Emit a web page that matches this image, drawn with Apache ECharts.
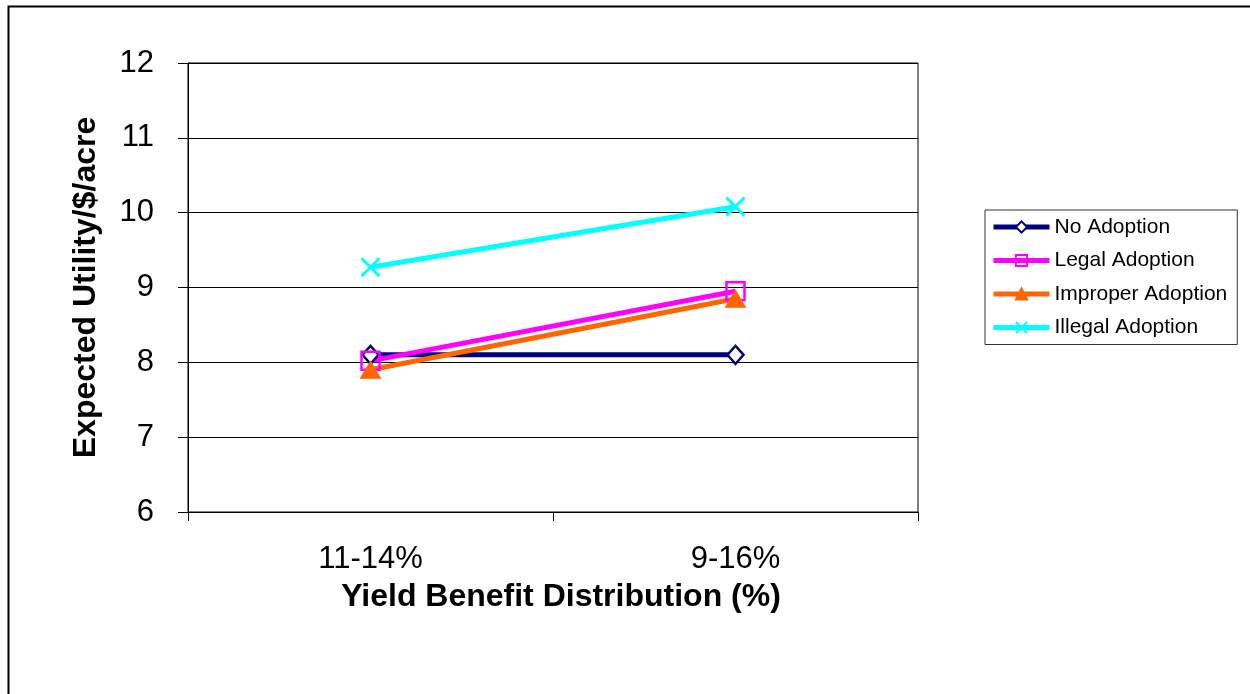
<!DOCTYPE html>
<html>
<head>
<meta charset="utf-8">
<script src="https://cdn.jsdelivr.net/npm/echarts@6/dist/echarts.min.js"></script>
<style>html,body{margin:0;padding:0;background:#fff}#c{width:1250px;height:694px}</style>
</head>
<body>
<div id="c"></div>
<script>
const categories = ['11-14%', '9-16%'];
const noAdoption = [8.10, 8.10];
const legalAdoption = [8.02, 8.95];
const improperAdoption = [7.90, 8.85];
const illegalAdoption = [9.27, 10.08];
const seriesNames = ['No Adoption', 'Legal Adoption', 'Improper Adoption', 'Illegal Adoption'];

const FONT = 'Liberation Sans, Arial, sans-serif';
const chart = echarts.init(document.getElementById('c'), null, {renderer: 'canvas'});
const crossPath = 'path://M0,0L10,10M10,0L0,10';

chart.setOption({
  animation: false,
  backgroundColor: '#fff',
  graphic: [{
    type: 'rect', left: 6, top: 4, shape: {width: 1270, height: 720},
    style: {fill: 'none', stroke: '#000', lineWidth: 2}, z: -1
  }],
  grid: {left: 188, top: 63, width: 730, height: 449, show: true, borderColor: '#000', borderWidth: 1, backgroundColor: 'transparent'},
  legend: {
    left: 985, top: 210, orient: 'vertical',
    itemWidth: 56, itemHeight: 14, itemGap: 12.5,
    padding: [6.5, 10, 6.5, 6],
    borderColor: '#333', borderWidth: 1,
    lineStyle: {width: 5},
    textStyle: {fontFamily: FONT, fontSize: 21, color: '#000', lineHeight: 21},
    data: seriesNames
  },
  xAxis: {
    type: 'category', data: categories, boundaryGap: true,
    axisLine: {lineStyle: {color: '#000', width: 1}},
    axisTick: {show: true, length: 9, inside: false, lineStyle: {color: '#000'}},
    axisLabel: {fontFamily: FONT, fontSize: 31, color: '#000', margin: 32},
    name: 'Yield Benefit Distribution (%)', nameLocation: 'middle', nameGap: 69,
    nameTextStyle: {fontFamily: FONT, fontSize: 32, fontWeight: 'bold', color: '#000', padding: [0, 0, 0, 16]}
  },
  yAxis: {
    type: 'value', min: 6, max: 12, interval: 1,
    axisLine: {show: true, lineStyle: {color: '#000', width: 1}},
    axisTick: {show: true, length: 10, lineStyle: {color: '#000'}},
    axisLabel: {fontFamily: FONT, fontSize: 31, color: '#000', margin: 34},
    splitLine: {show: true, lineStyle: {color: '#000', width: 1}},
    name: 'Expected Utility/$/acre', nameLocation: 'middle', nameGap: 86, nameRotate: 90,
    nameTextStyle: {fontFamily: FONT, fontSize: 32, fontWeight: 'bold', color: '#000'}
  },
  series: [
    {name: seriesNames[0], type: 'line', data: noAdoption, symbol: 'diamond', symbolSize: [16, 18],
     lineStyle: {color: '#000080', width: 5}, itemStyle: {color: '#fff', borderColor: '#000080', borderWidth: 2.5}},
    {name: seriesNames[1], type: 'line', data: legalAdoption, symbol: 'rect', symbolSize: 18,
     lineStyle: {color: '#FF00FF', width: 5}, itemStyle: {color: 'rgba(255,255,255,0)', borderColor: '#FF00FF', borderWidth: 2.5}},
    {name: seriesNames[2], type: 'line', data: improperAdoption, symbol: 'triangle', symbolSize: [20, 17],
     lineStyle: {color: '#FF6600', width: 5}, itemStyle: {color: '#FF6600', borderColor: '#FF6600', borderWidth: 1}},
    {name: seriesNames[3], type: 'line', data: illegalAdoption, symbol: crossPath, symbolSize: 18,
     lineStyle: {color: '#00FFFF', width: 5}, itemStyle: {color: 'rgba(0,0,0,0)', borderColor: '#00FFFF', borderWidth: 3}}
  ]
});
</script>
</body>
</html>
